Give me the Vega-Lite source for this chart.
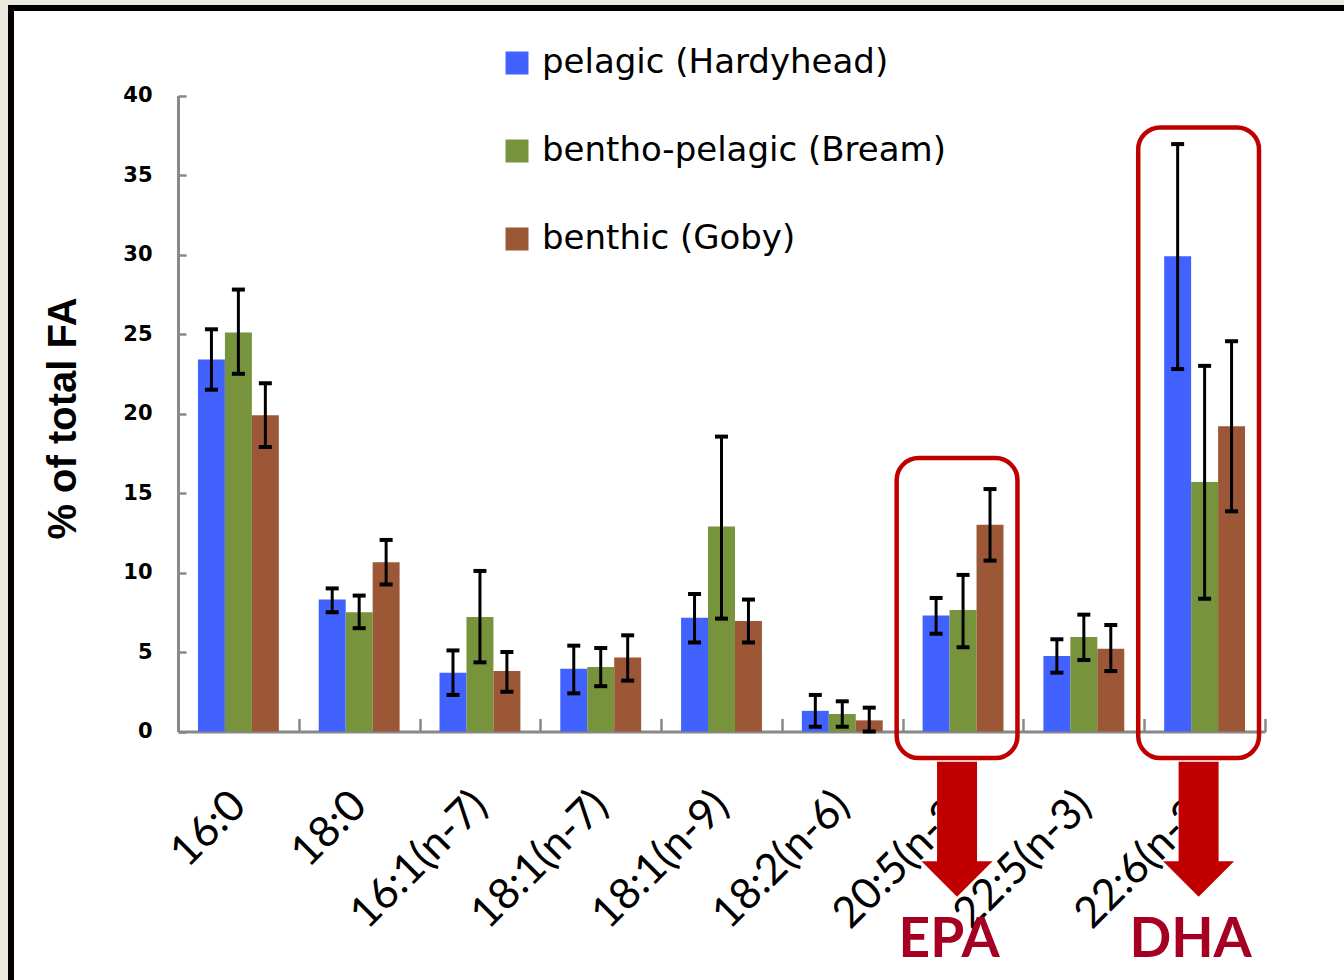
{
  "$schema": "https://vega.github.io/schema/vega-lite/v6.json",
  "description": "Fatty acid composition (% of total FA, mean with error bars) of three fish feeding guilds; EPA and DHA highlighted.",
  "width": 1341,
  "height": 980,
  "autosize": {"type": "none"},
  "padding": {"left": 11, "top": 8, "right": -8, "bottom": -8},
  "background": "#ECE9DE",
  "config": {
    "view": {"fill": "white", "stroke": "black", "strokeWidth": 6},
    "axis": {"grid": false}
  },
  "data": {
    "values": [
      {"fa": "16:0", "group": "pelagic (Hardyhead)", "value": 23.4, "lo": 21.5, "hi": 25.3},
      {"fa": "16:0", "group": "bentho-pelagic (Bream)", "value": 25.1, "lo": 22.5, "hi": 27.8},
      {"fa": "16:0", "group": "benthic (Goby)", "value": 19.9, "lo": 17.9, "hi": 21.9},
      {"fa": "18:0", "group": "pelagic (Hardyhead)", "value": 8.3, "lo": 7.5, "hi": 9.0},
      {"fa": "18:0", "group": "bentho-pelagic (Bream)", "value": 7.5, "lo": 6.5, "hi": 8.55},
      {"fa": "18:0", "group": "benthic (Goby)", "value": 10.65, "lo": 9.25, "hi": 12.05},
      {"fa": "16:1(n-7)", "group": "pelagic (Hardyhead)", "value": 3.7, "lo": 2.3, "hi": 5.1},
      {"fa": "16:1(n-7)", "group": "bentho-pelagic (Bream)", "value": 7.2, "lo": 4.35, "hi": 10.1},
      {"fa": "16:1(n-7)", "group": "benthic (Goby)", "value": 3.8, "lo": 2.5, "hi": 5.0},
      {"fa": "18:1(n-7)", "group": "pelagic (Hardyhead)", "value": 3.95, "lo": 2.4, "hi": 5.4},
      {"fa": "18:1(n-7)", "group": "bentho-pelagic (Bream)", "value": 4.05, "lo": 2.85, "hi": 5.25},
      {"fa": "18:1(n-7)", "group": "benthic (Goby)", "value": 4.65, "lo": 3.2, "hi": 6.05},
      {"fa": "18:1(n-9)", "group": "pelagic (Hardyhead)", "value": 7.15, "lo": 5.6, "hi": 8.65},
      {"fa": "18:1(n-9)", "group": "bentho-pelagic (Bream)", "value": 12.9, "lo": 7.1, "hi": 18.55},
      {"fa": "18:1(n-9)", "group": "benthic (Goby)", "value": 6.95, "lo": 5.6, "hi": 8.3},
      {"fa": "18:2(n-6)", "group": "pelagic (Hardyhead)", "value": 1.3, "lo": 0.3, "hi": 2.3},
      {"fa": "18:2(n-6)", "group": "bentho-pelagic (Bream)", "value": 1.1, "lo": 0.3, "hi": 1.9},
      {"fa": "18:2(n-6)", "group": "benthic (Goby)", "value": 0.7, "lo": 0.0, "hi": 1.5},
      {"fa": "20:5(n-3)", "group": "pelagic (Hardyhead)", "value": 7.3, "lo": 6.15, "hi": 8.4},
      {"fa": "20:5(n-3)", "group": "bentho-pelagic (Bream)", "value": 7.65, "lo": 5.3, "hi": 9.85},
      {"fa": "20:5(n-3)", "group": "benthic (Goby)", "value": 13.0, "lo": 10.75, "hi": 15.25},
      {"fa": "22:5(n-3)", "group": "pelagic (Hardyhead)", "value": 4.75, "lo": 3.7, "hi": 5.8},
      {"fa": "22:5(n-3)", "group": "bentho-pelagic (Bream)", "value": 5.95, "lo": 4.5, "hi": 7.35},
      {"fa": "22:5(n-3)", "group": "benthic (Goby)", "value": 5.2, "lo": 3.8, "hi": 6.7},
      {"fa": "22:6(n-3)", "group": "pelagic (Hardyhead)", "value": 29.9, "lo": 22.8, "hi": 36.95},
      {"fa": "22:6(n-3)", "group": "bentho-pelagic (Bream)", "value": 15.7, "lo": 8.35, "hi": 23.0},
      {"fa": "22:6(n-3)", "group": "benthic (Goby)", "value": 19.2, "lo": 13.85, "hi": 24.55}
    ]
  },
  "layer": [
    {
      "mark": {"type": "bar"},
      "encoding": {
        "x": {
          "field": "fa", "type": "nominal", "title": null,
          "scale": {
            "domain": ["16:0", "18:0", "16:1(n-7)", "18:1(n-7)", "18:1(n-9)", "18:2(n-6)", "20:5(n-3)", "22:5(n-3)", "22:6(n-3)"],
            "range": [167, 1254], "paddingInner": 0, "paddingOuter": 0
          },
          "axis": {
            "orient": "bottom", "offset": -256.5,
            "domainColor": "#888888", "domainWidth": 3,
            "tickBand": "extent", "tickColor": "#888888", "tickWidth": 2.5, "tickSize": -13,
            "labelAngle": -45, "labelAlign": "right", "labelBaseline": "middle",
            "labelFont": "Lato", "labelFontSize": 43, "labelColor": "black",
            "labelPadding": 80, "labelLimit": 600, "labelOverlap": false, "labelFlush": false
          }
        },
        "xOffset": {
          "field": "group", "type": "nominal",
          "scale": {"domain": ["pelagic (Hardyhead)", "bentho-pelagic (Bream)", "benthic (Goby)"], "paddingInner": 0, "paddingOuter": 0.74}
        },
        "y": {
          "field": "value", "type": "quantitative", "title": "% of total FA",
          "scale": {"domain": [0, 40], "range": [723.5, 87.6], "nice": false, "zero": true},
          "axis": {
            "orient": "left", "offset": -167,
            "values": [0, 5, 10, 15, 20, 25, 30, 35, 40],
            "domainColor": "#888888", "domainWidth": 3,
            "tickColor": "#888888", "tickWidth": 2.5, "tickSize": -8,
            "labelFont": "DejaVu Sans", "labelFontWeight": "bold", "labelFontSize": 21,
            "labelColor": "black", "labelPadding": 34,
            "titleFont": "Liberation Sans", "titleFontWeight": "bold", "titleFontSize": 40,
            "titleColor": "black", "titleAngle": -90, "titleX": -102.5, "titleY": 410,
            "titleAlign": "center", "titleBaseline": "alphabetic"
          }
        },
        "color": {
          "field": "group", "type": "nominal",
          "scale": {
            "domain": ["pelagic (Hardyhead)", "bentho-pelagic (Bream)", "benthic (Goby)"],
            "range": ["#4162FF", "#77933C", "#9B5736"]
          },
          "legend": {
            "title": null, "orient": "none", "legendX": 489, "legendY": 38,
            "direction": "vertical", "symbolType": "square", "symbolSize": 529,
            "symbolStrokeWidth": 0, "labelFont": "DejaVu Sans", "labelFontSize": 34,
            "labelColor": "black", "labelLimit": 600, "labelOffset": 8,
            "rowPadding": 54, "padding": 0
          }
        }
      }
    },
    {
      "mark": {"type": "rule", "color": "black", "strokeWidth": 3},
      "encoding": {
        "x": {"field": "fa", "type": "nominal", "title": null},
        "xOffset": {"field": "group", "type": "nominal"},
        "y": {"field": "lo", "type": "quantitative", "title": "% of total FA"},
        "y2": {"field": "hi"}
      }
    },
    {
      "mark": {"type": "tick", "color": "black", "thickness": 4, "size": 13, "opacity": 1},
      "encoding": {
        "x": {"field": "fa", "type": "nominal", "title": null},
        "xOffset": {"field": "group", "type": "nominal"},
        "y": {"field": "lo", "type": "quantitative", "title": "% of total FA"}
      }
    },
    {
      "mark": {"type": "tick", "color": "black", "thickness": 4, "size": 13, "opacity": 1},
      "encoding": {
        "x": {"field": "fa", "type": "nominal", "title": null},
        "xOffset": {"field": "group", "type": "nominal"},
        "y": {"field": "hi", "type": "quantitative", "title": "% of total FA"}
      }
    },
    {
      "data": {"values": [{}]},
      "mark": {"type": "bar", "fillOpacity": 0, "stroke": "#C00000", "strokeWidth": 4.5, "cornerRadius": 22, "xOffset": -6},
      "encoding": {
        "x": {"datum": "20:5(n-3)", "type": "nominal", "title": null},
        "y": {"datum": 17.2, "type": "quantitative", "title": "% of total FA"},
        "y2": {"datum": -1.67}
      }
    },
    {
      "data": {"values": [{}]},
      "mark": {"type": "bar", "fillOpacity": 0, "stroke": "#C00000", "strokeWidth": 4.5, "cornerRadius": 22, "xOffset": -6},
      "encoding": {
        "x": {"datum": "22:6(n-3)", "type": "nominal", "title": null},
        "y": {"datum": 38.0, "type": "quantitative", "title": "% of total FA"},
        "y2": {"datum": -1.67}
      }
    },
    {
      "data": {"values": [{"fa": "20:5(n-3)", "name": "EPA"}, {"fa": "22:6(n-3)", "name": "DHA"}]},
      "mark": {"type": "bar", "color": "#C00000", "width": 40, "xOffset": -6},
      "encoding": {
        "x": {"field": "fa", "type": "nominal", "title": null},
        "y": {"datum": -1.9, "type": "quantitative", "title": "% of total FA"},
        "y2": {"datum": -8.3}
      }
    },
    {
      "data": {"values": [{"fa": "20:5(n-3)", "name": "EPA"}, {"fa": "22:6(n-3)", "name": "DHA"}]},
      "mark": {"type": "point", "shape": "M-1,-0.5L1,-0.5L0,0.5Z", "size": 5041, "filled": true, "color": "#C00000", "opacity": 1, "strokeWidth": 0, "xOffset": -6},
      "encoding": {
        "x": {"field": "fa", "type": "nominal", "title": null},
        "y": {"datum": -9.28, "type": "quantitative", "title": "% of total FA"}
      }
    },
    {
      "data": {"values": [{"fa": "20:5(n-3)", "name": "EPA"}, {"fa": "22:6(n-3)", "name": "DHA"}]},
      "mark": {"type": "text", "font": "Lato", "fontWeight": "bold", "fontSize": 55, "color": "#A50021", "baseline": "alphabetic", "align": "center", "dx": -14},
      "encoding": {
        "x": {"field": "fa", "type": "nominal", "title": null},
        "y": {"datum": -14.2, "type": "quantitative", "title": "% of total FA"},
        "text": {"field": "name"}
      }
    }
  ]
}
